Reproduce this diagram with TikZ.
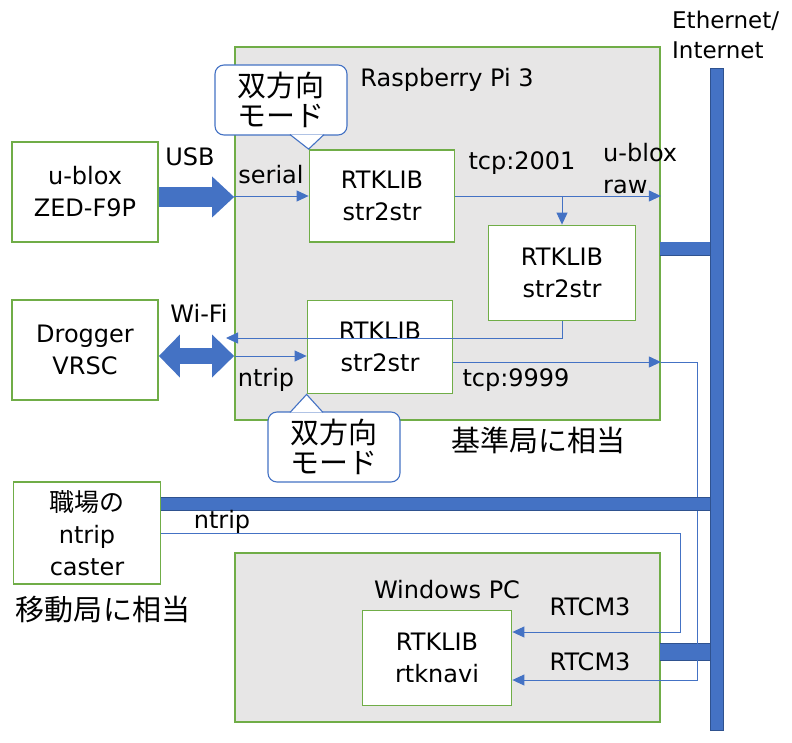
\documentclass[tikz,border=0pt]{standalone}
\usepackage{fontspec}
\setmainfont{DejaVu Sans}
\newfontfamily\jpfont{Noto Sans CJK JP}
\usepackage{tikz}
\usetikzlibrary{arrows.meta,positioning,calc}
\definecolor{OfficeGreen}{HTML}{70AD47}
\definecolor{OfficeBlue}{HTML}{4472C4}
\definecolor{OfficeBlueDark}{HTML}{2F528F}
\definecolor{PanelGray}{HTML}{E7E6E6}

\tikzset{
  panel/.style={draw=OfficeGreen,line width=1.8pt,fill=PanelGray,inner sep=0pt},
  unit/.style={draw=OfficeGreen,line width=1.8pt,fill=white,align=center,inner sep=0pt},
  bus/.style={draw=OfficeBlueDark,line width=0.6pt,fill=OfficeBlue,inner sep=0pt},
  trunk/.style={draw=OfficeBlueDark,line width=0.6pt,double=OfficeBlue,double distance=#1},
  flow/.style={OfficeBlue,line width=0.9pt,-{Triangle[length=12pt,width=11pt]}},
  fat/.style={OfficeBlue,line width=#1},
  bubble/.style={draw=OfficeBlue,line width=1.1pt,fill=white,rounded corners=9pt,
    align=center,inner sep=0pt,minimum width=132,minimum height=70,
    font=\jpfont\fontsize{29}{30}\selectfont},
  jp/.style={font=\jpfont\fontsize{29}{32}\selectfont},
}

\begin{document}
\begin{tikzpicture}[x=1pt,y=-1pt,>=Latex,font=\fontsize{24}{32}\selectfont]
  \useasboundingbox (0,0) rectangle (792,743);

  % machines
  \node[panel,minimum width=425,minimum height=373] (rpi) at (447.5,233.5) {};
  \node[panel,minimum width=425,minimum height=169] (winpc) at (447.5,637.5) {};
  \node (rpiname) at (447,80) {Raspberry Pi 3};
  \node (pcname) at (447,590) {Windows PC};

  % network
  \node[bus,minimum width=13,minimum height=662] (net) at (717,399) {};
  \node[align=left,anchor=west,inner sep=0pt,font=\fontsize{23}{30}\selectfont] (netname) at (672,35) {Ethernet/\\Internet};
  \coordinate (rpiport) at (660,249);
  \coordinate (pcport) at (660,652);
  \coordinate (casterport) at (161,504);
  \draw[trunk=13pt] (rpiport) -- (rpiport -| net.west);
  \draw[trunk=16pt] (pcport) -- (pcport -| net.west);

  % boxes
  \node[unit,minimum width=146,minimum height=100] (ublox) at (85,192) {u-blox\\ZED-F9P};
  \node[unit,minimum width=146,minimum height=100] (drogger) at (85,350) {Drogger\\VRSC};
  \node[unit,minimum width=147,minimum height=102] (caster) at (87,533)
    {{\jpfont\fontsize{25}{32}\selectfont 職場の}\\ntrip\\caster};
  \node[unit,minimum width=145,minimum height=92] (strA) at (382,196) {RTKLIB\\str2str};
  \node[unit,minimum width=147,minimum height=95] (strB) at (562,273) {RTKLIB\\str2str};
  \node[unit,minimum width=145,minimum height=93] (strC) at (380,347) {RTKLIB\\str2str};
  \node[unit,minimum width=149,minimum height=95] (rtknavi) at (437,658) {RTKLIB\\rtknavi};

  % usb and wi-fi
  \coordinate (usbend) at ($(ublox.east)+(0,5)$);
  \coordinate (wifiend) at ($(drogger.east)+(0,6)$);
  \draw[fat=20pt,-{Triangle[length=22pt,width=41pt,line width=0pt]}] (usbend) -- (usbend -| rpi.west);
  \draw[fat=16pt,{Triangle[length=21pt,width=43pt,line width=0pt]}-{Triangle[length=22pt,width=43pt,line width=0pt]}]
    (wifiend) -- (wifiend -| rpi.west);
  \node (usb) at (190,157) {USB};
  \node (wifi) at (199,313) {Wi-Fi};

  % streams inside the pi
  \coordinate (cin) at (235,356);
  \coordinate (cout) at ($(strC.east)+(0,15)$);
  \coordinate (wifiback) at (226,338);
  \draw[flow] (strA.west -| rpi.west) -- (strA.west);
  \draw[flow] (strA.east) -- (strA.east -| rpi.east);
  \draw[flow] (strB.north |- strA.east) -- (strB.north);
  \draw[flow] (strB.south) |- (wifiback);
  \draw[flow] (cin) -- (cin -| strC.west);
  \draw[flow] (cout) -- (cout -| rpi.east);
  \node (serial) at (271,175) {serial};
  \node (tcpA) at (522,163) {tcp:2001};
  \node[align=left,anchor=west,inner sep=0pt] (ubxraw) at (603,169) {u-blox\\raw};
  \node (ntripA) at (266,380) {ntrip};
  \node (tcpB) at (516,380) {tcp:9999};

  % corrections to the rover
  \coordinate (drop1) at (680,632);
  \coordinate (drop2) at (697,680);
  \draw[flow] (caster.east) -| (drop1) -- (drop1 -| rtknavi.east);
  \draw[flow] (cout -| rpi.east) -| (drop2) -- (drop2 -| rtknavi.east);
  \draw[trunk=12pt] (casterport) -- (casterport -| net.west);
  \node (ntripB) at (222,522) {ntrip};
  \node (rtcmA) at (590,607) {RTCM3};
  \node (rtcmB) at (590,662) {RTCM3};

  \node[jp] (base) at (538,440) {基準局に相当};
  \node[jp] (rover) at (103,610) {移動局に相当};

  % callouts
  \node[bubble] (modeA) at (281,100) {双方向\\モード};
  \filldraw[fill=white,draw=OfficeBlue,line width=1.1pt]
    ($(modeA.south)+(9,-1)$) -- (strA.north west) -- ($(modeA.south)+(43,-1)$);
  \node[bubble] (modeC) at (334,447) {双方向\\モード};
  \filldraw[fill=white,draw=OfficeBlue,line width=1.1pt]
    ($(modeC.north)+(-44,1)$) -- (strC.south west) -- ($(modeC.north)+(-11,1)$);
\end{tikzpicture}
\end{document}
